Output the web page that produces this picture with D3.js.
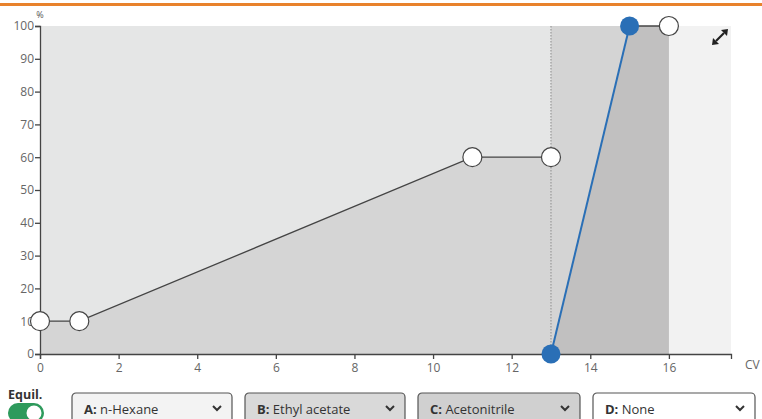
<!DOCTYPE html>
<html>
<head>
<meta charset="utf-8">
<script src="https://cdn.jsdelivr.net/npm/d3@7"></script>
<style>
  body { margin: 0; background: #fff; font-family: "Open Sans", sans-serif; }
  svg { display: block; }
</style>
</head>
<body>
<svg id="chart" width="762" height="419"></svg>
<script>
// equilibration segment (black, white handles)
const equilCV = [0, 1, 11, 13]
const equilPct = [10, 10, 60, 60]
// gradient segment (blue, filled handles)
const gradCV = [13, 15]
const gradPct = [0, 100]
// hold segment
const holdCV = [15, 16]
const holdPct = [100, 100]

const xTicks = [0, 2, 4, 6, 8, 10, 12, 14, 16]
const yTicks = [0, 10, 20, 30, 40, 50, 60, 70, 80, 90, 100]
const solvents = [
  {key: "A:", name: "n-Hexane"},
  {key: "B:", name: "Ethyl acetate"},
  {key: "C:", name: "Acetonitrile"},
  {key: "D:", name: "None"}
]

const svg = d3.select("#chart")
const x = d3.scaleLinear().domain([0, 17.58]).range([40, 731])
const y = d3.scaleLinear().domain([0, 100]).range([354, 26])

// orange strip on top
svg.append("rect").attr("x", 0).attr("y", 3).attr("width", 762).attr("height", 3).attr("fill", "#e8822c")

// background bands
svg.append("rect").attr("x", x(0)).attr("y", y(100)).attr("width", x(13) - x(0)).attr("height", y(0) - y(100)).attr("fill", "#e5e6e6")
svg.append("rect").attr("x", x(13)).attr("y", y(100)).attr("width", x(16) - x(13)).attr("height", y(0) - y(100)).attr("fill", "#d4d4d4")
svg.append("rect").attr("x", x(16)).attr("y", y(100)).attr("width", x(17.58) - x(16)).attr("height", y(0) - y(100)).attr("fill", "#f2f2f2")

const area = d3.area().x(d => x(d[0])).y0(y(0)).y1(d => y(d[1]))
svg.append("path")
  .datum(d3.zip(equilCV, equilPct))
  .attr("d", area)
  .attr("fill", "#d5d5d5")
svg.append("path")
  .datum(d3.zip(gradCV, gradPct).concat(d3.zip(holdCV, holdPct).slice(1)))
  .attr("d", area)
  .attr("fill", "#c1c0c0")

// dotted divider at end of equilibration
svg.append("line")
  .attr("x1", x(13)).attr("x2", x(13)).attr("y1", y(100)).attr("y2", y(0))
  .attr("stroke", "#999").attr("stroke-width", 1.2).attr("stroke-dasharray", "1.5,1.5")

// axes
const yAxis = svg.append("g").attr("transform", `translate(${x(0)},0)`)
  .call(d3.axisLeft(y).tickValues(yTicks).tickSize(5).tickSizeOuter(5))
const xAxis = svg.append("g").attr("transform", `translate(0,${y(0)})`)
  .call(d3.axisBottom(x).tickValues(xTicks).tickSize(5).tickSizeOuter(5))
;[xAxis, yAxis].forEach(a => {
  a.selectAll("path, line").attr("stroke", "#444").attr("stroke-width", 1.3)
  a.selectAll("text").attr("fill", "#666").style("font-family", "Open Sans").style("font-size", "12px")
})
yAxis.selectAll("text").attr("x", -6)
xAxis.selectAll("text").attr("y", 9)

svg.append("text").attr("x", 40).attr("y", 18).attr("text-anchor", "middle")
  .attr("font-size", 9).attr("fill", "#555").text("%")
svg.append("text").attr("x", 745).attr("y", 369)
  .attr("font-size", 12).attr("fill", "#666").text("CV")

// lines
const line = d3.line().x(d => x(d[0])).y(d => y(d[1]))
svg.append("path").datum(d3.zip(equilCV, equilPct)).attr("d", line)
  .attr("fill", "none").attr("stroke", "#444").attr("stroke-width", 1.3)
svg.append("path").datum(d3.zip(holdCV, holdPct)).attr("d", line)
  .attr("fill", "none").attr("stroke", "#444").attr("stroke-width", 1.3)
svg.append("path").datum(d3.zip(gradCV, gradPct)).attr("d", line)
  .attr("fill", "none").attr("stroke", "#2a6fb6").attr("stroke-width", 2)

// handles
svg.selectAll(".eq").data(d3.zip(equilCV, equilPct)).enter().append("circle")
  .attr("cx", d => x(d[0])).attr("cy", d => y(d[1])).attr("r", 9.5)
  .attr("fill", "#fff").attr("stroke", "#444").attr("stroke-width", 1.2)
svg.selectAll(".hd").data(d3.zip(holdCV, holdPct).slice(1)).enter().append("circle")
  .attr("cx", d => x(d[0])).attr("cy", d => y(d[1])).attr("r", 9.5)
  .attr("fill", "#fff").attr("stroke", "#444").attr("stroke-width", 1.2)
svg.selectAll(".gr").data(d3.zip(gradCV, gradPct)).enter().append("circle")
  .attr("cx", d => x(d[0])).attr("cy", d => y(d[1])).attr("r", 9.5)
  .attr("fill", "#2a6fb6")

// expand icon
const ic = svg.append("g").attr("transform", "translate(720,37)").attr("fill", "#222").attr("stroke", "#222")
ic.append("line").attr("x1", -4).attr("y1", 4).attr("x2", 4).attr("y2", -4).attr("stroke-width", 2.2)
ic.append("path").attr("d", "M8,-8 L1,-7 L7,-1 Z").attr("stroke", "none")
ic.append("path").attr("d", "M-8,8 L-1,7 L-7,1 Z").attr("stroke", "none")

// Equil toggle
svg.append("text").attr("x", 8).attr("y", 399).attr("font-size", 12.5).attr("font-weight", "bold")
  .attr("fill", "#333").text("Equil.")
svg.append("rect").attr("x", 8).attr("y", 403).attr("width", 36).attr("height", 20).attr("rx", 10).attr("fill", "#2e9a5c")
svg.append("circle").attr("cx", 34).attr("cy", 413).attr("r", 7.5).attr("fill", "#fff")

// solvent dropdowns
const boxX = [72, 245, 418, 593]
const boxW = [160, 160, 162, 162]
const boxFill = ["#f3f3f3", "#d9d9d9", "#d0d0d0", "#ffffff"]
const boxes = svg.selectAll(".sel").data(solvents).enter().append("g")
  .attr("transform", (d, i) => `translate(${boxX[i]},393)`)
boxes.append("rect").attr("width", (d, i) => boxW[i]).attr("height", 34).attr("rx", 4)
  .attr("fill", (d, i) => boxFill[i]).attr("stroke", "#555").attr("stroke-width", 1.2)
const lbl = boxes.append("text").attr("x", 12).attr("y", 21).attr("font-size", 13).attr("fill", "#333")
lbl.append("tspan").attr("font-weight", "bold").text(d => d.key)
lbl.append("tspan").text(d => " " + d.name)
boxes.append("path").attr("d", (d, i) => `M${boxW[i] - 19},13 l4,4 l4,-4`)
  .attr("fill", "none").attr("stroke", "#333").attr("stroke-width", 2)
</script>
</body>
</html>
